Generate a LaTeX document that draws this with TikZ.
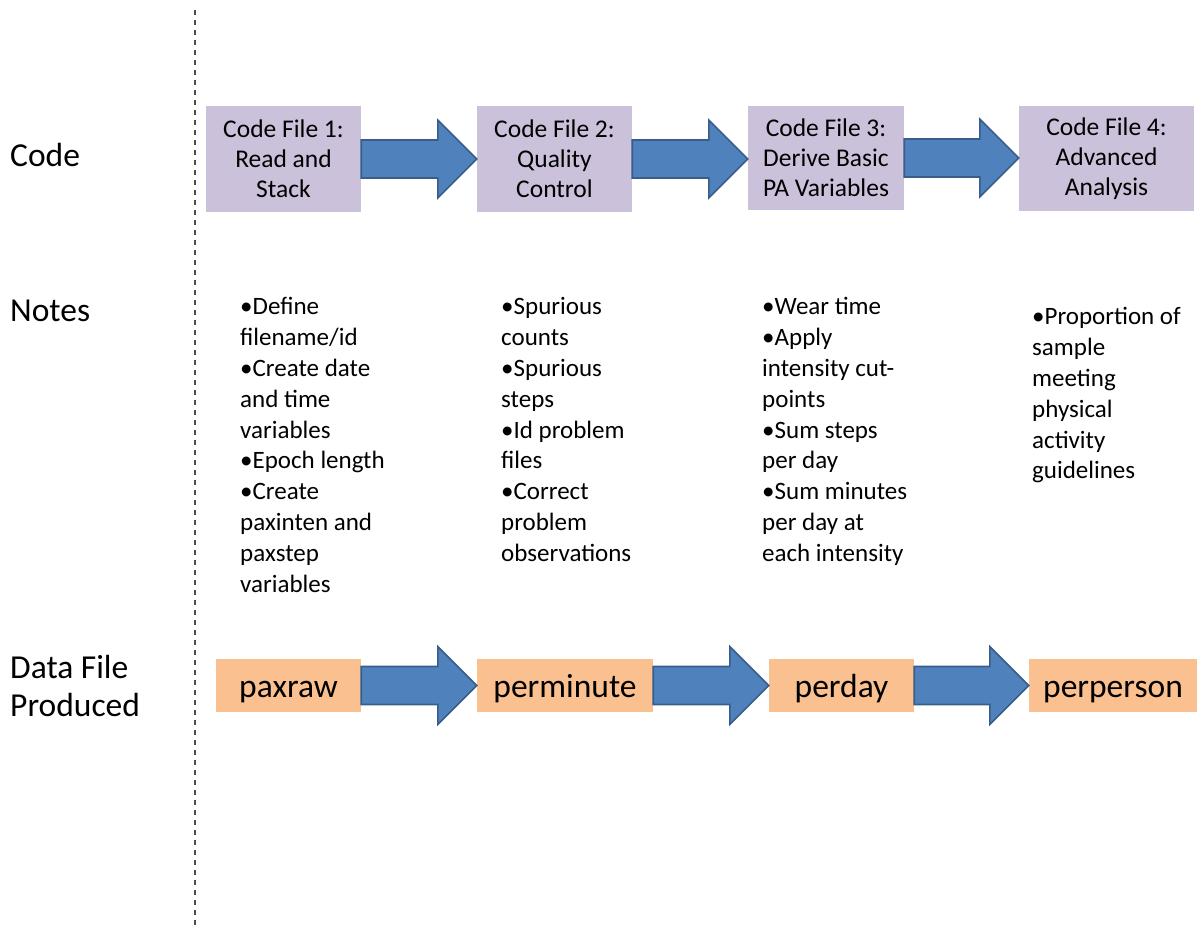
\documentclass[tikz,border=0pt]{standalone}
\usepackage{fontspec}
\setmainfont{Carlito}
\usetikzlibrary{calc}
\definecolor{purplebox}{HTML}{CCC1DA}
\definecolor{orangebox}{HTML}{FAC090}
\definecolor{arrowfill}{HTML}{4F81BD}
\definecolor{arrowline}{HTML}{385D8A}
\tikzset{
  codebox/.style={fill=purplebox, draw=none, inner sep=0pt, align=center,
    font=\fontsize{25.5}{30}\selectfont},
  databox/.style={fill=orangebox, draw=none, inner sep=0pt, align=center,
    text height=26pt, text depth=3pt,
    font=\fontsize{33.5}{36}\selectfont},
  rowlabel/.style={anchor=west, align=left, inner sep=0pt,
    font=\fontsize{33.5}{38}\selectfont},
  notetext/.style={anchor=north west, align=left, inner sep=0pt,
    font=\fontsize{25}{30.8}\selectfont},
  blockarrow/.style={fill=arrowfill, draw=arrowline, line width=1.6pt, line join=miter},
}
\newcommand{\barrow}[2]{%
  \draw[blockarrow] let \p1=(#1.east), \p2=(#2.west) in
    (\x1,\y1+19pt) -- (\x2-39pt,\y1+19pt) -- (\x2-39pt,\y1+39pt) -- (\x2,\y1)
    -- (\x2-39pt,\y1-39pt) -- (\x2-39pt,\y1-19pt) -- (\x1,\y1-19pt) -- cycle;}
\begin{document}
\begin{tikzpicture}[x=1pt,y=-1pt]
\useasboundingbox (0,0) rectangle (1197,930);
% dashed divider
\coordinate (dtop) at (195,10);
\coordinate (dbot) at (195,928);
\draw[dash pattern=on 5pt off 5pt, line width=1.5pt, black!70] (dtop) -- (dbot);
% row labels
\node[rowlabel] (lcode) at (10,155) {Code};
\node[rowlabel] (lnotes) at (10,311) {Notes};
\node[rowlabel] (ldata) at (10,686) {Data File\\Produced};
% code boxes
\node[codebox, minimum width=155pt, minimum height=106pt] (c1) at (283.5,159) {Code File 1:\\Read and\\Stack};
\node[codebox, minimum width=155pt, minimum height=106pt] (c2) at (554.5,159) {Code File 2:\\Quality\\Control};
\node[codebox, minimum width=156pt, minimum height=104pt] (c3) at (826,158) {Code File 3:\\Derive Basic\\PA Variables};
\node[codebox, minimum width=175pt, minimum height=105pt] (c4) at (1106.5,158.5) {Code File 4:\\Advanced\\Analysis};
\barrow{c1}{c2}
\barrow{c2}{c3}
\barrow{c3}{c4}
% notes
\node[notetext] (n1) at (240,297.5) {•Define\\filename/id\\•Create date\\and time\\variables\\•Epoch length\\•Create\\paxinten and\\paxstep\\variables};
\node[notetext] (n2) at (501,297.5) {•Spurious\\counts\\•Spurious\\steps\\•Id problem\\files\\•Correct\\problem\\observations};
\node[notetext] (n3) at (762,297.5) {•Wear time\\•Apply\\intensity cut-\\points\\•Sum steps\\per day\\•Sum minutes\\per day at\\each intensity};
\node[notetext] (n4) at (1032,307.5) {•Proportion of\\sample\\meeting\\physical\\activity\\guidelines};
% data boxes
\node[databox, minimum width=145pt, minimum height=53pt] (d1) at (288.5,685.5) {paxraw};
\node[databox, minimum width=176pt, minimum height=53pt] (d2) at (565,685.5) {perminute};
\node[databox, minimum width=145pt, minimum height=53pt] (d3) at (841.5,685.5) {perday};
\node[databox, minimum width=168pt, minimum height=53pt] (d4) at (1113,685.5) {perperson};
\barrow{d1}{d2}
\barrow{d2}{d3}
\barrow{d3}{d4}
\end{tikzpicture}
\end{document}
